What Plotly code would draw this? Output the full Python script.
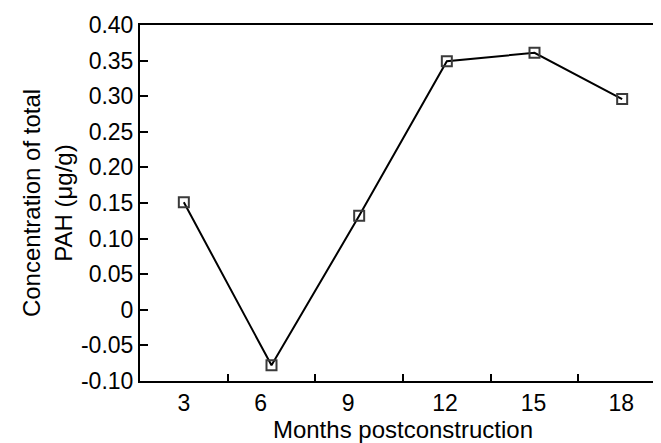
import plotly.graph_objects as go

months = ["3", "6", "9", "12", "15", "18"]
pah = [0.151, -0.078, 0.132, 0.349, 0.361, 0.296]
y_ticks = [-0.10, -0.05, 0, 0.05, 0.10, 0.15, 0.20, 0.25, 0.30, 0.35, 0.40]
y_tick_text = ["-0.10", "-0.05", "0", "0.05", "0.10", "0.15", "0.20", "0.25", "0.30", "0.35", "0.40"]

xpos = list(range(1, len(months) + 1))
label_pos = [1.0, 1.875, 2.875, 3.98, 4.99, 5.99]

fig = go.Figure()
fig.add_trace(go.Scatter(
    x=xpos, y=pah, mode="lines+markers",
    line=dict(color="black", width=2),
    marker=dict(symbol="square-open", size=10, color="#3a3a3a", line=dict(width=2, color="#3a3a3a")),
    showlegend=False, cliponaxis=False,
))

font = "Liberation Sans, Arial, sans-serif"
fig.update_layout(
    width=661, height=443,
    margin=dict(l=132, r=1, t=17, b=70),
    plot_bgcolor="white", paper_bgcolor="white",
    font=dict(family=font, size=24, color="black"),
    xaxis=dict(
        range=[0.5, 6.5], showgrid=False, zeroline=False,
        showline=True, linecolor="black", linewidth=2, mirror=True,
        tickmode="array", tickvals=label_pos, ticktext=months, ticks="",
        minor=dict(tickmode="array", tickvals=[1.5, 2.5, 3.5, 4.5, 5.5], ticks="inside",
                   ticklen=7, tickwidth=2, tickcolor="black", showgrid=False),
        tickfont=dict(size=23),
        title=dict(text="Months postconstruction", font=dict(size=24), standoff=4),
    ),
    yaxis=dict(
        range=[-0.10, 0.40], showgrid=False, zeroline=False,
        showline=True, linecolor="black", linewidth=2, mirror=True,
        tickmode="array", tickvals=y_ticks, ticktext=y_tick_text,
        ticks="inside", ticklen=8, tickwidth=2, tickcolor="black",
        tickfont=dict(size=23),
        title=dict(text="Concentration of total<br>PAH (μg/g)", font=dict(size=24), standoff=2),
    ),
)
fig.write_html("out.html")
